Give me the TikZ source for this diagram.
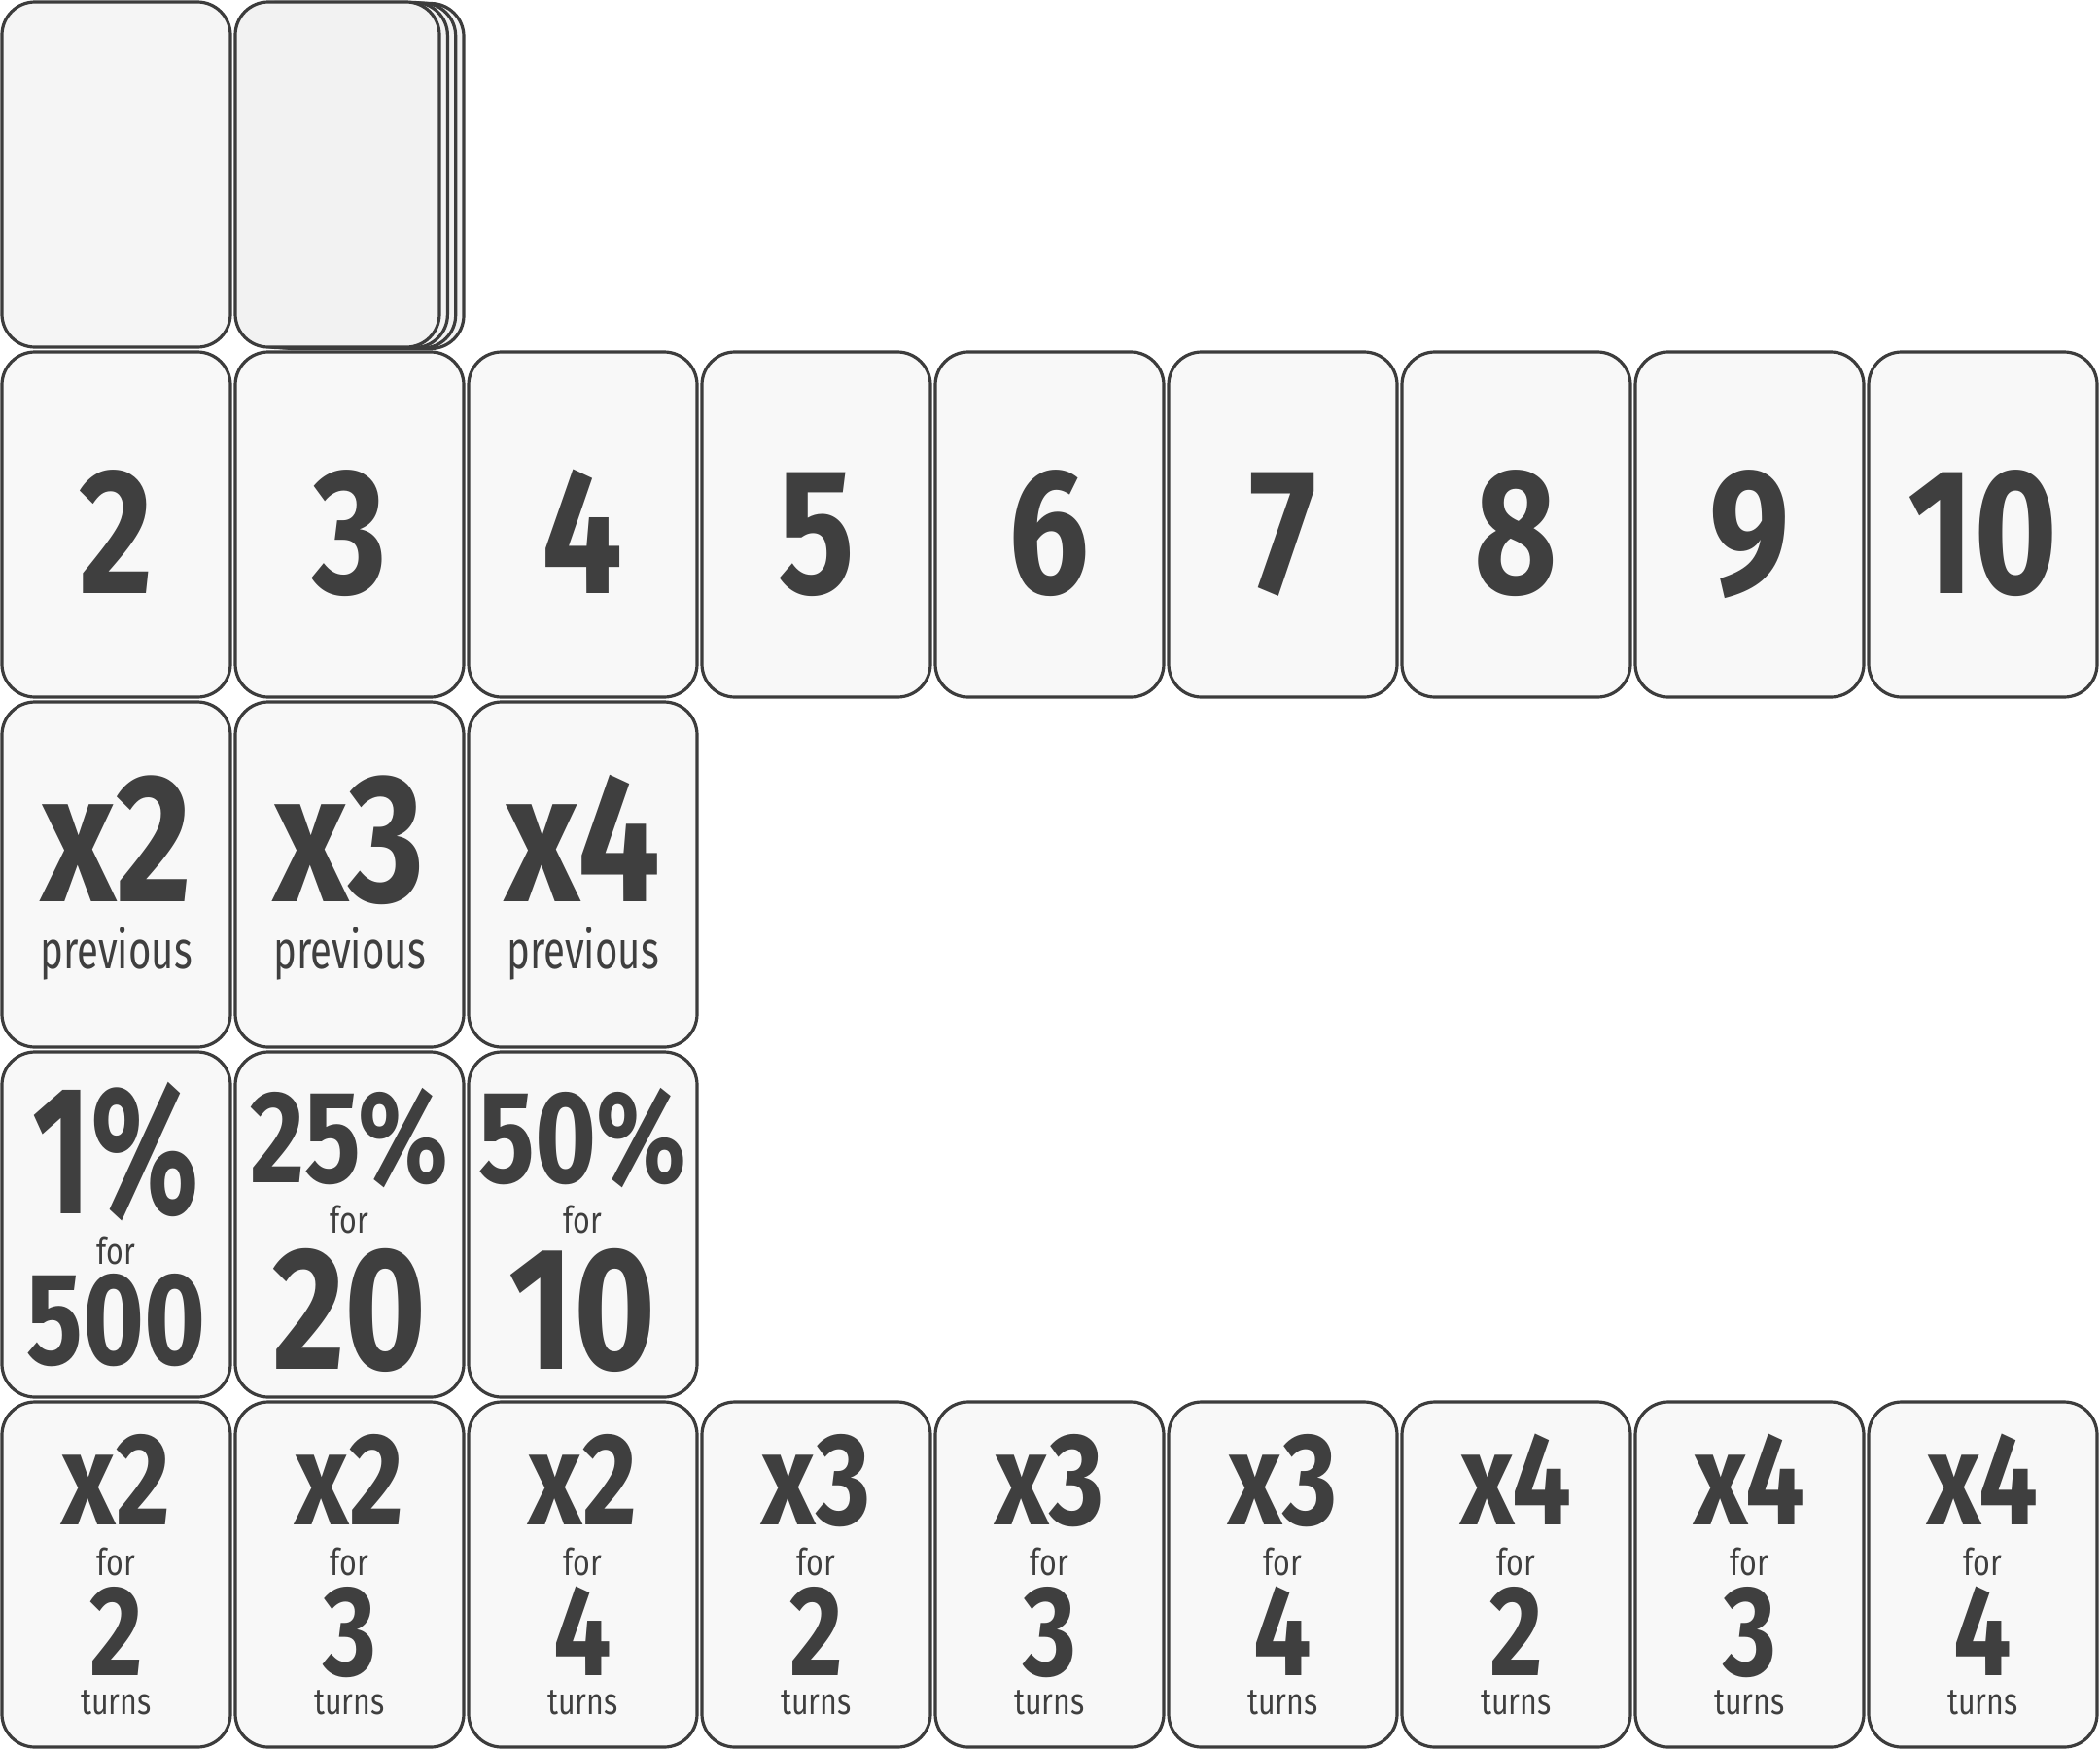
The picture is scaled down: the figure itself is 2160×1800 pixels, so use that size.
\documentclass[tikz,border=0pt]{standalone}
\usepackage{fontspec}
\setmainfont{Fira Sans}
\newfontfamily\bigfont{Fira Sans}[FakeStretch=0.8]
\newfontfamily\narrowfont{Fira Sans}[FakeStretch=0.69]
\newfontfamily\smallfont{Fira Sans}[FakeStretch=0.8]
\newfontfamily\prevfont{Fira Sans}[FakeStretch=0.73]
\definecolor{cardline}{HTML}{3C3C3C}
\definecolor{cardfill}{HTML}{F8F8F8}
\definecolor{backfill}{HTML}{F5F5F5}
\definecolor{stackfill}{HTML}{F2F2F2}
\definecolor{ink}{HTML}{3F3F3F}
\tikzset{
  card/.style={draw=cardline, line width=1.6pt, fill=cardfill, rounded corners=17pt,
    minimum width=117.5pt, minimum height=177.5pt, inner sep=0pt, outer sep=0pt},
  stackcard/.style={card, fill=stackfill, minimum width=105pt},
  bigtxt/.style={font=\bigfont\bfseries\fontsize{#1}{#1}\selectfont, text=ink, inner sep=0pt,
    anchor=base, text height=0.69*#1 pt, text depth=0pt},
  smalltxt/.style={font=\smallfont\fontsize{#1}{#1}\selectfont, text=ink, inner sep=0pt,
    anchor=base, text height=0.6*#1 pt, text depth=0pt}
}
\begin{document}
\begin{tikzpicture}[x=0.5pt,y=-0.5pt]
\useasboundingbox (0,0) rectangle (2160,1800);
% row 1
\node[card, fill=backfill] (back) at (119.5,179.5) {};
\node[stackcard] (s3) at (372,181) {};
\node[stackcard] (s2) at (363.7,180.5) {};
\node[stackcard] (s1) at (355.4,180) {};
\node[stackcard] (s0) at (347,179.5) {};
% row 2: numbers
\foreach \i/\t in {1/2,2/3,3/4,4/5,5/6,6/7,7/8,8/9,9/10}{
  \node[card] (n\i) at ({119.5+240*(\i-1)},539.5) {};
  \node[bigtxt=92] (nt\i) at ({119.5+240*(\i-1)},610) {\t};
}
% row 3: multiply previous
\foreach \i/\t in {1/x2,2/x3,3/x4}{
  \node[card] (m\i) at ({119.5+240*(\i-1)},899.5) {};
  \node[bigtxt=94] (mt\i) at ({119.5+240*(\i-1)},927) {\t};
  \node[smalltxt=27.5, font=\prevfont\fontsize{27.5}{27.5}\selectfont] (mp\i) at ({119.5+240*(\i-1)},996) {previous};
}
% row 4: percentages
\node[card] (p1) at (119.5,1259.5) {};
\node[bigtxt=94, font=\narrowfont\bfseries\fontsize{94}{94}\selectfont] (pa1) at (119.5,1248) {1\%};
\node[smalltxt=19] (pf1) at (119.5,1300) {for};
\node[bigtxt=67.5] (pb1) at (119.5,1403) {500};
\node[card] (p2) at (359.5,1259.5) {};
\node[bigtxt=67.5] (pa2) at (359.5,1216) {25\%};
\node[smalltxt=19] (pf2) at (359.5,1268) {for};
\node[bigtxt=90] (pb2) at (359.5,1408) {20};
\node[card] (p3) at (599.5,1259.5) {};
\node[bigtxt=67.5] (pa3) at (599.5,1216) {50\%};
\node[smalltxt=19] (pf3) at (599.5,1268) {for};
\node[bigtxt=90] (pb3) at (599.5,1408) {10};
% row 5: multiply for turns
\foreach \i/\m/\n in {1/x2/2,2/x2/3,3/x2/4,4/x3/2,5/x3/3,6/x3/4,7/x4/2,8/x4/3,9/x4/4}{
  \node[card] (r\i) at ({119.5+240*(\i-1)},1619.5) {};
  \node[bigtxt=67.5] (rm\i) at ({119.5+240*(\i-1)},1568) {\m};
  \node[smalltxt=19] (rf\i) at ({119.5+240*(\i-1)},1620) {for};
  \node[bigtxt=66] (rn\i) at ({119.5+240*(\i-1)},1723) {\n};
  \node[smalltxt=19] (rt\i) at ({119.5+240*(\i-1)},1763) {turns};
}
\end{tikzpicture}
\end{document}
